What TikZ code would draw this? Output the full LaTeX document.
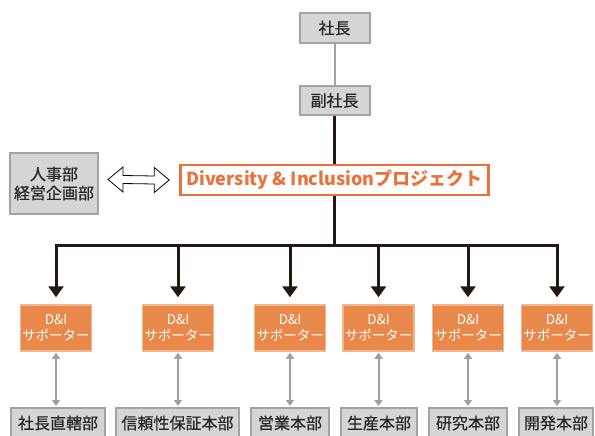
\documentclass[tikz,border=0pt]{standalone}
\usepackage{fontspec}
\setmainfont{Noto Sans CJK JP}
\newfontfamily\jpmed[FakeBold=0.5]{Noto Sans CJK JP}
\usetikzlibrary{arrows.meta,calc}
\definecolor{boxgray}{HTML}{D5D5D7}
\definecolor{linegray}{HTML}{A3A3A6}
\definecolor{arrgray}{HTML}{A0A0A4}
\definecolor{orfill}{HTML}{E8884B}
\definecolor{orline}{HTML}{F4B78C}
\definecolor{ortext}{HTML}{E8733A}
\definecolor{blk}{HTML}{231815}
\begin{document}
\begin{tikzpicture}[x=1pt,y=-1pt,
  graybox/.style={draw=linegray, line width=2pt, fill=boxgray, inner sep=0pt, align=center,
    font=\jpmed\fontsize{16}{19}\selectfont, text=black!85},
  supbox/.style={draw=orline, line width=1.5pt, fill=orfill, minimum width=71pt, minimum height=46pt,
    inner sep=0pt, align=center, text=white, font=\fontsize{13.5}{16}\selectfont},
  dnibox/.style={draw=ortext, line width=2.5pt, fill=white, minimum width=308pt, minimum height=30pt,
    inner sep=0pt, text=ortext, font=\fontsize{18}{20}\selectfont\bfseries},
  blkline/.style={draw=blk, line width=3pt},
  blkarrow/.style={draw=blk, line width=3pt, shorten >=7pt},
  grayarrow/.style={draw=arrgray, line width=2pt, {Triangle[width=8pt,length=6pt]}-{Triangle[width=8pt,length=6pt]}, shorten <=1pt, shorten >=1pt}
]
\useasboundingbox (0,0) rectangle (595,436);
\fill[white] (0,0) rectangle (595,436);

% top
\node[graybox, minimum width=70pt, minimum height=30pt] (pres) at (334.5,28) {社長};
\node[graybox, minimum width=70pt, minimum height=29pt] (vp) at (334.5,100.5) {副社長};
\node[graybox, minimum width=88pt, minimum height=61pt] (hr) at (54,183.5) {人事部\\経営企画部};
\node[dnibox] (dni) at (334.5,180) {Diversity \& Inclusionプロジェクト};

% supporters
\foreach \i/\x in {1/56,2/178,3/290,4/378.5,5/468,6/557}{
  \node[supbox] (s\i) at (\x,328) {D\&I\\サポーター};
}

% departments
\node[graybox, minimum width=94pt, minimum height=30pt] (d1) at (58,423) {社長直轄部};
\node[graybox, minimum width=123pt, minimum height=30pt] (d2) at (177.5,423) {信頼性保証本部};
\node[graybox, minimum width=78pt, minimum height=30pt] (d3) at (290,423) {営業本部};
\node[graybox, minimum width=76pt, minimum height=30pt] (d4) at (379,423) {生産本部};
\node[graybox, minimum width=78pt, minimum height=30pt] (d5) at (468,423) {研究本部};
\node[graybox, minimum width=74pt, minimum height=30pt] (d6) at (556,423) {開発本部};

% connectors
\draw[draw=linegray, line width=2pt] (pres) -- (vp);
\draw[blkline] (vp.south) -- (dni.north);
\coordinate (bus) at (334.5,245);
\draw[blkline] (dni.south) -- (bus);
\draw[blkarrow, shorten <=7pt, {Triangle[width=15pt,length=11pt]}-{Triangle[width=15pt,length=11pt]}]
  (s1.north) |- (bus) -| (s6.north);
\foreach \i in {2,3,4,5}{
  \draw[blkarrow, -{Triangle[width=15pt,length=11pt]}] (s\i.north |- bus) -- (s\i.north);
}
\foreach \i in {1,...,6}{
  \draw[grayarrow] (s\i.south) -- (s\i.south |- d\i.north);
}

% open double arrow
\coordinate (aL) at ($(hr.east)+(9,-4)$);
\coordinate (aR) at ($(dni.west)+(-10,0)$);
\draw[line width=0.8pt, fill=white]
  (aL) -- ++(15,-12.5) -- ++(0,8.5) -- ($(aR)+(-15,-4)$) -- ++(0,-8.5) -- (aR)
  -- ++(-15,12.5) -- ++(0,-8.5) -- ($(aL)+(15,4)$) -- ++(0,8.5) -- cycle;
\end{tikzpicture}
\end{document}
